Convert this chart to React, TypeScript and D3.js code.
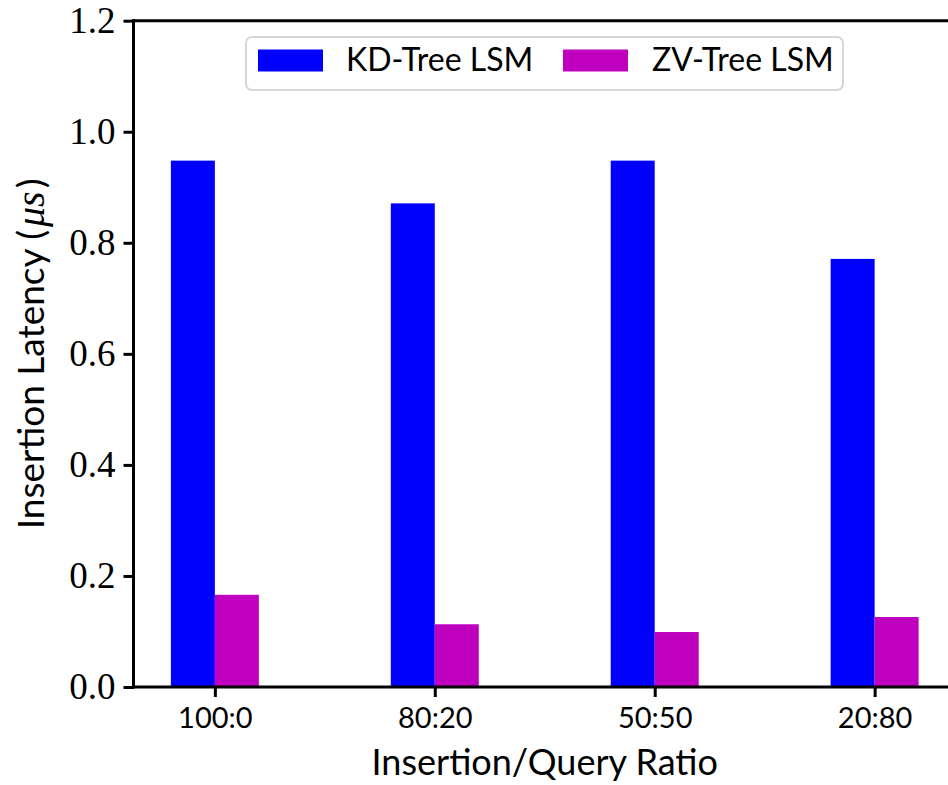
import * as d3 from "d3";
import React, { useRef, useEffect } from "react";

const categories = ["100:0", "80:20", "50:50", "20:80"];
const kdTree = [0.948, 0.871, 0.948, 0.771];
const zvTree = [0.166, 0.113, 0.099, 0.126];
const yTicks = [0, 0.2, 0.4, 0.6, 0.8, 1.0, 1.2];
const seriesNames = ["KD-Tree LSM", "ZV-Tree LSM"];
const seriesColors = ["#0000ff", "#bf00bf"];

const sans = "Lato, 'Open Sans', sans-serif";
const serif = "'Liberation Serif', 'DejaVu Serif', serif";

const App = () => {
  const svgRef = useRef<SVGSVGElement>(null);
  const width = 948;
  const height = 785;

  useEffect(() => {
    const svg = d3.select(svgRef.current);
    svg.selectAll("*").remove();

    const barW = 0.2;
    const x = d3.scaleLinear().domain([-0.37, 3.37]).range([133.5, 956]);
    const y = d3.scaleLinear().domain([0, 1.2]).range([687, 20.7]);

    // bars
    const series = [kdTree, zvTree];
    series.forEach((vals, s) => {
      svg.append("g")
        .selectAll("rect")
        .data(vals)
        .enter()
        .append("rect")
        .attr("x", (d, i) => x(i + (s === 0 ? -barW : 0)))
        .attr("y", (d) => y(d))
        .attr("width", x(barW) - x(0))
        .attr("height", (d) => y(0) - y(d))
        .attr("fill", seriesColors[s]);
    });

    // spines
    const spines = svg.append("g").attr("stroke", "#000").attr("stroke-width", 3);
    spines.append("line").attr("x1", x.range()[0]).attr("x2", x.range()[0])
      .attr("y1", y(1.2) - 1.5).attr("y2", y(0) + 1.5);
    spines.append("line").attr("x1", x.range()[0] - 1.5).attr("x2", x.range()[1])
      .attr("y1", y(0)).attr("y2", y(0));
    spines.append("line").attr("x1", x.range()[0] - 1.5).attr("x2", x.range()[1])
      .attr("y1", y(1.2)).attr("y2", y(1.2));

    // y axis
    const yAxis = svg.append("g")
      .attr("transform", `translate(${x.range()[0]},0)`)
      .call(d3.axisLeft(y).tickValues(yTicks).tickFormat(d3.format(".1f")).tickSize(10).tickPadding(8).tickSizeOuter(0));
    yAxis.select(".domain").remove();
    yAxis.selectAll("line").attr("stroke-width", 3);
    yAxis.selectAll("text")
      .attr("font-family", serif)
      .attr("font-size", 37)
      .attr("fill", "#000");

    // x axis
    const xAxis = svg.append("g")
      .attr("transform", `translate(0,${y(0)})`)
      .call(d3.axisBottom(x).tickValues(d3.range(categories.length)).tickFormat((d) => categories[+d]).tickSize(10).tickPadding(10).tickSizeOuter(0));
    xAxis.select(".domain").remove();
    xAxis.selectAll("line").attr("stroke-width", 3);
    xAxis.selectAll("text")
      .attr("font-family", sans)
      .attr("font-size", 29)
      .attr("fill", "#000");

    // axis labels
    svg.append("text")
      .attr("x", (x(0) + x(3)) / 2)
      .attr("y", 775)
      .attr("text-anchor", "middle")
      .attr("font-family", sans)
      .attr("font-size", 36)
      .text("Insertion/Query Ratio");

    const yl = svg.append("text")
      .attr("transform", `translate(44,${(y(0) + y(1.2)) / 2}) rotate(-90)`)
      .attr("text-anchor", "middle")
      .attr("font-family", sans)
      .attr("font-size", 37);
    yl.append("tspan").text("Insertion Latency (");
    yl.append("tspan").attr("dx", 3).attr("font-family", serif).attr("font-style", "italic").attr("font-size", 40).text("\u03bcs");
    yl.append("tspan").attr("dx", 3).text(")");

    // legend
    const lg = svg.append("g");
    lg.append("rect")
      .attr("x", 246).attr("y", 37).attr("width", 597).attr("height", 53)
      .attr("rx", 6).attr("fill", "#fff").attr("fill-opacity", 0.8)
      .attr("stroke", "#d6d6d6").attr("stroke-width", 2);
    const items = [
      { px: 258, tx: 346 },
      { px: 563, tx: 652 },
    ];
    items.forEach((it, i) => {
      lg.append("rect")
        .attr("x", it.px).attr("y", 49.5).attr("width", 65).attr("height", 22)
        .attr("fill", seriesColors[i]);
      lg.append("text")
        .attr("x", it.tx).attr("y", 71)
        .attr("font-family", sans)
        .attr("font-size", 32)
        .attr("fill", "#000")
        .text(seriesNames[i]);
    });
  }, []);

  return (
    <svg
      ref={svgRef}
      width={width}
      height={height}
      style={{ position: "absolute", left: 0, top: 0, background: "#fff" }}
    />
  );
};

export default App;
